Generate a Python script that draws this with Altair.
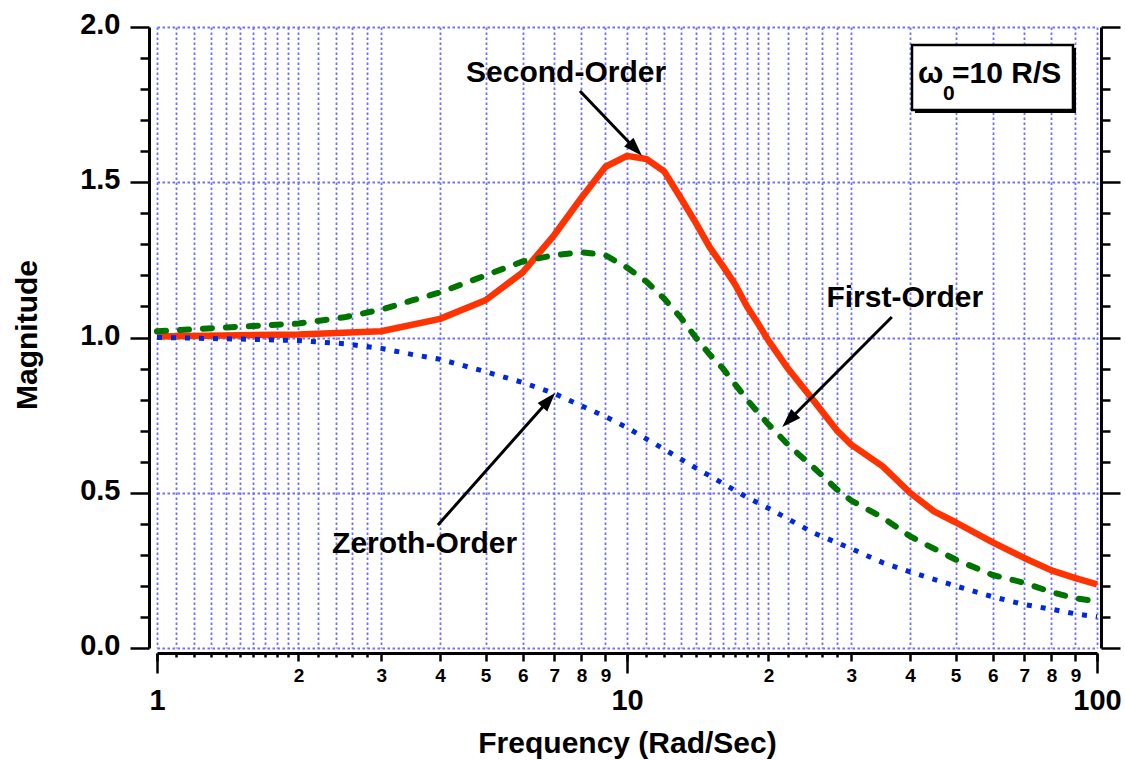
import math

import altair as alt
import pandas as pd

# ---- magnitude responses, frequency in rad/s ----
second_freq = [1, 2, 3, 4, 5, 6, 7, 8, 9, 10, 11, 12, 13, 14, 15, 16, 17, 18, 19, 20,
               22, 25, 28, 30, 35, 40, 45, 50, 60, 70, 80, 90, 100]
second_mag = [1.003, 1.01, 1.02, 1.06, 1.12, 1.21, 1.33, 1.45, 1.55, 1.585,
              1.575, 1.535, 1.45, 1.37, 1.29, 1.23, 1.17, 1.10, 1.045, 0.99,
              0.90, 0.795, 0.70, 0.655, 0.585, 0.50, 0.44, 0.405, 0.34, 0.29,
              0.25, 0.225, 0.205]

first_freq = [1, 1.5, 2, 2.5, 3, 3.5, 4, 5, 6, 7, 8, 9, 10, 11, 12, 13, 14, 15, 16, 18,
              20, 22, 25, 28, 30, 35, 40, 45, 50, 60, 70, 80, 90, 100]
first_mag = [1.02, 1.035, 1.045, 1.065, 1.09, 1.12, 1.145, 1.20, 1.245, 1.265,
             1.275, 1.265, 1.225, 1.18, 1.125, 1.065, 1.0, 0.945, 0.90, 0.80,
             0.72, 0.655, 0.58, 0.51, 0.475, 0.42, 0.36, 0.32, 0.285, 0.235,
             0.21, 0.18, 0.16, 0.15]

zeroth_freq = [1, 1.5, 2, 2.5, 3, 3.5, 4, 5, 6, 7, 8, 9, 10, 12, 14, 16, 18, 20,
               25, 30, 35, 40, 50, 60, 70, 80, 90, 100]
zeroth_mag = [1.0, 0.995, 0.99, 0.98, 0.965, 0.945, 0.93, 0.89, 0.855, 0.82,
              0.78, 0.745, 0.71, 0.64, 0.58, 0.53, 0.485, 0.45, 0.37, 0.32,
              0.275, 0.245, 0.20, 0.165, 0.14, 0.125, 0.11, 0.10]

# ---- tick positions ----
x_fine = [1.0, 1.1, 1.2, 1.3, 1.4, 1.5, 1.6, 1.7, 1.8, 1.9,
          2.0, 2.2, 2.4, 2.6, 2.8, 3, 4, 5, 6, 7, 8, 9]
x_ticks = x_fine + [round(v * 10, 6) for v in x_fine] + [100]
x_major = [1, 10, 100]
x_labeled = [2, 3, 4, 5, 6, 7, 8, 9, 20, 30, 40, 50, 60, 70, 80, 90]
y_ticks = [round(0.1 * i, 1) for i in range(21)]

# ---- annotations (data coordinates) ----
note_text = ["Second-Order", "First-Order", "Zeroth-Order"]
note_freq = [7.42, 39.0, 3.71]
note_mag = [1.823, 1.098, 0.306]

arrow_from_freq = [7.94, 36.6, 3.96]
arrow_from_mag = [1.794, 1.066, 0.396]
arrow_to_freq = [10.76, 21.4, 7.03]
arrow_to_mag = [1.585, 0.712, 0.821]

box_freq = [40.4, 88.9]
box_mag = [1.942, 1.733]
box_text = ["ω", "0", "=10 R/S"]
box_text_freq = [41.6, 47.0, 49.15]
box_text_mag = [1.8196, 1.765, 1.8196]
box_text_size = [30, 21, 30]

# ---- styling ----
FONT = "Liberation Sans"
W, H = 940, 621
RED = "#ff3300"
GREEN = "#007300"
BLUE = "#0028dc"
GRID = "#7070ff"
HEAD_LEN = 19

x_scale = alt.Scale(type="log", domain=[1, 100], nice=False)
y_scale = alt.Scale(domain=[0, 2], nice=False, zero=False)


def member_test(values):
    return "indexof([" + ",".join(f"{v:g}" for v in values) + "], datum.value) >= 0"


x_label_test = member_test(x_labeled)
x_mid_test = member_test(x_labeled + x_major)
y_major_test = "abs(datum.value * 2 - round(datum.value * 2)) < 1e-6"

# bottom axis, part 1: every subdivision (grid, short ticks, single-digit labels)
x_axis_minor = alt.Axis(
    orient="bottom", offset=5, values=x_ticks,
    labelExpr=f"{x_label_test} ? format(datum.value < 10 ? datum.value : datum.value / 10, 'd') : ''",
    labelFont=FONT, labelFontWeight="bold", labelColor="black", labelFontSize=19,
    labelPadding=5.5, labelBaseline="top", labelOverlap=False, labelFlush=False,
    tickSize={"condition": {"test": x_mid_test, "value": 8}, "value": 4},
    tickColor="black", tickWidth=2.5, domainColor="black", domainWidth=3,
    grid=True, gridColor=GRID, gridDash=[2.5, 2.5], gridWidth=1.8,
    title=None,
)

# bottom axis, part 2: decades with long ticks and large labels, plus the title
x_axis_major = alt.Axis(
    orient="bottom", offset=5, values=x_major, format="d",
    labelFont=FONT, labelFontWeight="bold", labelColor="black", labelFontSize=29,
    labelPadding=13, labelBaseline="top", labelOverlap=False, labelFlush=False,
    tickSize=20, tickColor="black", tickWidth=2.5, domain=False, grid=False,
    title="Frequency (Rad/Sec)", titleFont=FONT, titleFontSize=30, titleFontWeight="bold",
    titleColor="black", titleX=W / 2, titleY=99, titleAlign="center", titleBaseline="alphabetic",
)

y_tick_size = {"condition": {"test": y_major_test, "value": 19}, "value": 9}

y_axis_left = alt.Axis(
    orient="left", offset=8, values=y_ticks,
    labelExpr=f"{y_major_test} ? format(datum.value, '.1f') : ''",
    labelFont=FONT, labelFontWeight="bold", labelColor="black", labelFontSize=29,
    labelPadding=10, labelOffset=-2.5, labelOverlap=False, labelFlush=False,
    tickSize=y_tick_size, tickColor="black", tickWidth=2.5,
    domainColor="black", domainWidth=3,
    grid=True, gridColor=GRID, gridDash=[2.5, 2.5], gridWidth=1.8,
    gridOpacity={"condition": {"test": y_major_test, "value": 1}, "value": 0},
    title="Magnitude", titleFont=FONT, titleFontSize=30, titleFontWeight="bold",
    titleColor="black", titleAngle=270, titleX=-113, titleY=H / 2 - 3,
    titleAlign="center", titleBaseline="alphabetic",
)

y_axis_right = alt.Axis(
    orient="right", offset=4, values=y_ticks, labels=False, grid=False,
    tickSize=y_tick_size, tickColor="black", tickWidth=2.5,
    domainColor="black", domainWidth=3, title=None,
)

df_second = pd.DataFrame({"freq": second_freq, "mag": second_mag})
df_first = pd.DataFrame({"freq": first_freq, "mag": first_mag})
df_zeroth = pd.DataFrame({"freq": zeroth_freq, "mag": zeroth_mag})

blue_line = alt.Chart(df_zeroth).mark_line(
    color=BLUE, strokeWidth=5, strokeDash=[5, 9], strokeCap="butt"
).encode(
    x=alt.X("freq:Q", scale=x_scale, axis=None),
    y=alt.Y("mag:Q", scale=y_scale, axis=None),
)

green_line = alt.Chart(df_first).mark_line(
    color=GREEN, strokeWidth=6, strokeDash=[9, 14], strokeCap="round"
).encode(
    x=alt.X("freq:Q", scale=x_scale, axis=x_axis_major),
    y=alt.Y("mag:Q", scale=y_scale, axis=y_axis_right),
)

red_line = alt.Chart(df_second).mark_line(
    color=RED, strokeWidth=6.5, strokeJoin="round"
).encode(
    x=alt.X("freq:Q", scale=x_scale, axis=x_axis_minor),
    y=alt.Y("mag:Q", scale=y_scale, axis=y_axis_left),
)

# arrows: shaft stops short of the tip, head is a rotated triangle
shaft_rows, head_rows = [], []
for f0, m0, f1, m1 in zip(arrow_from_freq, arrow_from_mag, arrow_to_freq, arrow_to_mag):
    dx = (math.log10(f1) - math.log10(f0)) * (W / 2)
    dy = -(m1 - m0) * (H / 2)
    length = math.hypot(dx, dy)
    ux, uy = dx / length, dy / length
    back = HEAD_LEN * 0.7
    f_end = 10 ** (math.log10(f1) - ux * back / (W / 2))
    m_end = m1 + uy * back / (H / 2)
    shaft_rows.append({"f0": f0, "m0": m0, "f1": f_end, "m1": m_end})
    angle = math.degrees(math.atan2(dx, -dy)) % 360
    head_rows.append({"freq": f1, "mag": m1, "angle": angle})

shafts = alt.Chart(pd.DataFrame(shaft_rows)).mark_rule(
    color="black", strokeWidth=3
).encode(
    x=alt.X("f0:Q", scale=x_scale, axis=None), x2="f1:Q",
    y=alt.Y("m0:Q", scale=y_scale, axis=None), y2="m1:Q",
)

heads = alt.Chart(pd.DataFrame(head_rows)).mark_point(
    shape="M0,0L0.34,1L-0.34,1Z", filled=True, color="black", opacity=1,
    size=(2 * HEAD_LEN) ** 2, strokeWidth=0,
).encode(
    x=alt.X("freq:Q", scale=x_scale, axis=None),
    y=alt.Y("mag:Q", scale=y_scale, axis=None),
    angle=alt.Angle("angle:Q", scale=None),
)

notes = alt.Chart(pd.DataFrame({"label": note_text, "freq": note_freq, "mag": note_mag})).mark_text(
    font=FONT, fontSize=30, fontWeight="bold", color="black", align="center", baseline="alphabetic"
).encode(
    x=alt.X("freq:Q", scale=x_scale, axis=None),
    y=alt.Y("mag:Q", scale=y_scale, axis=None),
    text="label:N",
)

box_df = pd.DataFrame({"f0": [box_freq[0]], "f1": [box_freq[1]],
                       "m0": [box_mag[0]], "m1": [box_mag[1]]})

box_shadow = alt.Chart(box_df).mark_rect(
    color="black", xOffset=3, x2Offset=3, yOffset=3, y2Offset=3
).encode(
    x=alt.X("f0:Q", scale=x_scale, axis=None), x2="f1:Q",
    y=alt.Y("m0:Q", scale=y_scale, axis=None), y2="m1:Q",
)

box = alt.Chart(box_df).mark_rect(
    fill="white", stroke="black", strokeWidth=2.5
).encode(
    x=alt.X("f0:Q", scale=x_scale, axis=None), x2="f1:Q",
    y=alt.Y("m0:Q", scale=y_scale, axis=None), y2="m1:Q",
)

box_label = alt.Chart(pd.DataFrame({
    "label": box_text, "freq": box_text_freq, "mag": box_text_mag, "size": box_text_size,
})).mark_text(
    font=FONT, fontWeight="bold", color="black", align="left", baseline="alphabetic"
).encode(
    x=alt.X("freq:Q", scale=x_scale, axis=None),
    y=alt.Y("mag:Q", scale=y_scale, axis=None),
    text="label:N",
    size=alt.Size("size:Q", scale=None),
)

chart = alt.layer(
    red_line, green_line, blue_line, shafts, heads, notes, box_shadow, box, box_label
).resolve_axis(
    x="independent", y="independent"
).properties(
    width=W, height=H,
    autosize=alt.AutoSizeParams(type="none"),
    padding={"left": 157, "top": 27, "right": 28, "bottom": 112},
    background="white",
).configure_view(strokeWidth=0)

chart.save("out.html", embed_options={"renderer": "svg", "actions": False})
